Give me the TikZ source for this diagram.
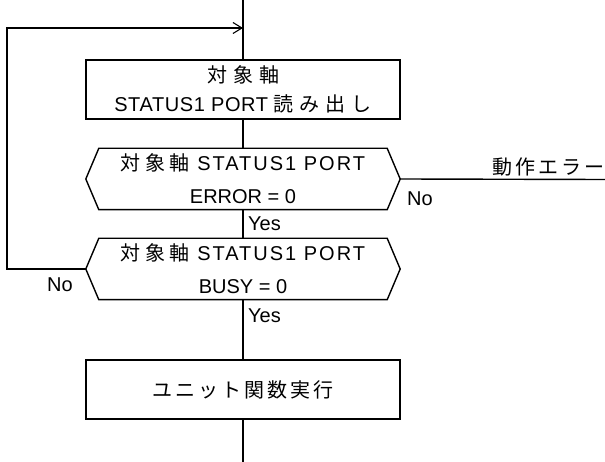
\documentclass[tikz,border=0pt]{standalone}
\usepackage{fontspec}
\setmainfont{Liberation Sans}
\newfontfamily\lsw[LetterSpace=10]{Liberation Sans}
\newfontfamily\lsn[LetterSpace=3]{Liberation Sans}
\newfontfamily\jp[LetterSpace=15]{Noto Sans CJK JP}
\newfontfamily\jph[LetterSpace=22]{Noto Sans CJK JP}
\newfontfamily\jpw[LetterSpace=30]{Noto Sans CJK JP}
\usetikzlibrary{arrows.meta}
\tikzset{
  x=1pt, y=-1pt,
  line/.style={line width=1.4pt},
  procbox/.style={draw, line width=1.4pt, minimum width=314pt, minimum height=59pt, inner sep=0pt, align=center, font=\fontsize{20}{29}\selectfont},
  hexbox/.style={minimum width=314pt, minimum height=61pt, inner sep=0pt, align=center, font=\fontsize{20}{33}\selectfont},
  lbl/.style={inner sep=0pt, font=\fontsize{20}{22}\selectfont},
}
\newcommand{\hexdraw}[1]{%
  \draw[line] (#1.west) -- ([xshift=13pt]#1.north west) -- ([xshift=-13pt]#1.north east)
    -- (#1.east) -- ([xshift=-13pt]#1.south east) -- ([xshift=13pt]#1.south west) -- cycle;}
\begin{document}
\begin{tikzpicture}
\useasboundingbox (0,0) rectangle (605,462);
\coordinate (top) at (243,0);
\coordinate (bot) at (243,462);
\coordinate (loopin) at (243,28);
\coordinate (lc1) at (7,28);
\coordinate (lc2) at (7,269);
\coordinate (errend) at (605,179.5);

\node[procbox] (b1) at (243,89.5) {{\jpw 対象軸}\\{\lsn STATUS1 PORT} {\jpw 読み出し}};
\node[hexbox] (h1) at (243,179) {{\jph 対象軸}{\lsw\ STATUS1 PORT}\\ERROR = 0};
\node[hexbox] (h2) at (243,269) {{\jph 対象軸}{\lsw\ STATUS1 PORT}\\BUSY = 0};
\node[procbox] (b2) at (243,389.5) {\jp ユニット関数実行};
\hexdraw{h1}
\hexdraw{h2}

\draw[line] (top) -- (b1.north);
\draw[line] (b1.south) -- (h1.north);
\draw[line] (h1.south) -- (h2.north);
\draw[line] (h2.south) -- (b2.north);
\draw[line] (b2.south) -- (bot);
\draw[line] (h1.east) -- (errend);
\draw[line, -{Straight Barb[length=9pt,width=11pt,line width=1.1pt]}] (h2.west) -- (lc2) -- (lc1) -- (loopin);

\node[lbl, anchor=south east] (err) at (605,176) {\jp 動作エラー};
\node[lbl, anchor=west] (no1) at (407,199) {No};
\node[lbl, anchor=west] (yes1) at (248,224) {Yes};
\node[lbl, anchor=west] (no2) at (47,285) {No};
\node[lbl, anchor=west] (yes2) at (248,316) {Yes};
\end{tikzpicture}
\end{document}
